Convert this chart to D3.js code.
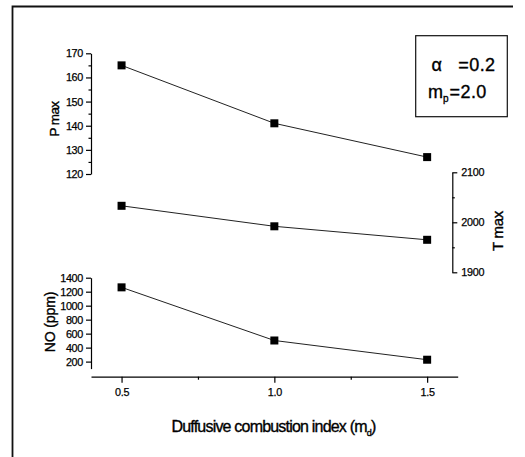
<html>
<head>
<script src="https://d3js.org/d3.v7.min.js"></script>
<style>
body { margin: 0; background: #fff; }
text { font-family: 'Liberation Sans', Arial, sans-serif; fill: #000; stroke: #000; stroke-width: 0.35px; }
.axis path, .axis line { stroke: #000; stroke-width: 1.2; }
.axis text { font-size: 10.8px; letter-spacing: -0.3px; stroke-width: 0.25px; }
.series { fill: none; stroke: #222; stroke-width: 1; }
</style>
</head>
<body>
<div id="plot"></div>
<script>
var width = 525;
var height = 457;

// values
var mdIndex = [0.5, 1.0, 1.5];
var pMax = [165, 141, 127];
var tMax = [2033, 1992, 1965];
var noPpm = [1262, 502, 227];

var xTicks = [0.5, 1.0, 1.5];
var pTicks = [120, 130, 140, 150, 160, 170];
var tTicks = [1900, 2000, 2100];
var noTicks = [200, 400, 600, 800, 1000, 1200, 1400];

var svg = d3.select("#plot").append("svg")
  .attr("width", width).attr("height", height);

// page frame (only top and left edge visible)
svg.append("path")
  .attr("d", "M12.5,460 V6.5 H513")
  .style("fill", "none").style("stroke", "#111").style("stroke-width", 1.8);

var xScale = d3.scaleLinear().domain([0.4, 1.6]).range([91, 457.7]);
var pScale = d3.scaleLinear().domain([120, 170]).range([174, 53.3]);
var tScale = d3.scaleLinear().domain([1900, 2100]).range([272.3, 172.3]);
var noScale = d3.scaleLinear().domain([100, 1400]).range([368.6, 277.7]);

var fmtInt = d3.format("d");

// x axis
svg.append("g").attr("class", "axis")
  .attr("transform", "translate(0,376.7)")
  .call(d3.axisBottom(xScale).tickValues(xTicks).tickFormat(d3.format(".1f"))
    .tickSize(6).tickPadding(6).tickSizeOuter(0));
svg.append("g").attr("class", "axis")
  .attr("transform", "translate(0,376.7)")
  .call(d3.axisBottom(xScale).tickValues([0.75, 1.25]).tickFormat("").tickSize(3).tickSizeOuter(0))
  .select("path.domain").remove();

// P max axis (left, top)
svg.append("g").attr("class", "axis")
  .attr("transform", "translate(91,0)")
  .call(d3.axisLeft(pScale).tickValues(pTicks).tickFormat(fmtInt).tickSize(5).tickPadding(3).tickSizeOuter(0));
svg.append("g").attr("class", "axis")
  .attr("transform", "translate(91,0)")
  .call(d3.axisLeft(pScale).tickValues([125, 135, 145, 155, 165]).tickFormat("").tickSize(2.5).tickSizeOuter(0))
  .select("path.domain").remove();

// T max axis (right, middle)
svg.append("g").attr("class", "axis")
  .attr("transform", "translate(452.3,0)")
  .call(d3.axisRight(tScale).tickValues(tTicks).tickFormat(fmtInt).tickSize(5).tickPadding(4).tickSizeOuter(0));
svg.append("g").attr("class", "axis")
  .attr("transform", "translate(452.3,0)")
  .call(d3.axisRight(tScale).tickValues([1950, 2050]).tickFormat("").tickSize(2.5).tickSizeOuter(0))
  .select("path.domain").remove();

// NO axis (left, bottom)
svg.append("g").attr("class", "axis")
  .attr("transform", "translate(91,0)")
  .call(d3.axisLeft(noScale).tickValues(noTicks).tickFormat(fmtInt).tickSize(5).tickPadding(3).tickSizeOuter(0));

// axis titles
svg.append("text")
  .attr("transform", "translate(58.5,119) rotate(-90)")
  .attr("text-anchor", "middle")
  .style("font-size", "13.5px").style("letter-spacing", "-0.6px")
  .text("P max");

svg.append("text")
  .attr("transform", "translate(503,231) rotate(-90)")
  .attr("text-anchor", "middle")
  .style("font-size", "15px").style("letter-spacing", "-0.3px")
  .text("T max");

svg.append("text")
  .attr("transform", "translate(54.5,322) rotate(-90)")
  .attr("text-anchor", "middle")
  .style("font-size", "14px").style("letter-spacing", "-0.1px")
  .text("NO (ppm)");

var xt = svg.append("text")
  .attr("x", 273.5).attr("y", 431.5)
  .attr("text-anchor", "middle")
  .style("font-size", "16px").style("letter-spacing", "-0.8px");
xt.append("tspan").text("Duffusive combustion index (m");
xt.append("tspan").attr("dy", 4).style("font-size", "9px").text("d");
xt.append("tspan").attr("dy", -4).text(")");

// series
var series = [pMax, tMax, noPpm];
var scales = [pScale, tScale, noScale];

series.forEach(function (vals, i) {
  var ys = scales[i];
  var line = d3.line()
    .x(function (d, j) { return xScale(mdIndex[j]); })
    .y(function (d) { return ys(d); });
  svg.append("path").datum(vals).attr("class", "series").attr("d", line);
  svg.selectAll(null).data(vals).enter().append("rect")
    .attr("x", function (d, j) { return xScale(mdIndex[j]) - 4; })
    .attr("y", function (d) { return ys(d) - 4; })
    .attr("width", 8).attr("height", 8)
    .style("fill", "#000");
});

// legend box
svg.append("rect")
  .attr("x", 415.7).attr("y", 35.7).attr("width", 91.6).attr("height", 81)
  .style("fill", "none").style("stroke", "#111").style("stroke-width", 1.2);

svg.append("text").attr("x", 431.5).attr("y", 71)
  .style("font-size", "18px").text("\u03b1");
svg.append("text").attr("x", 495.5).attr("y", 71).attr("text-anchor", "end")
  .style("font-size", "18px").style("letter-spacing", "0.4px").text("=0.2");
var mp = svg.append("text").attr("x", 428).attr("y", 97.7)
  .style("font-size", "18px");
mp.append("tspan").text("m");
mp.append("tspan").attr("dy", 4).style("font-size", "10px").text("p");
mp.append("tspan").attr("dy", -4).attr("dx", 1).style("letter-spacing", "0.4px").text("=2.0");
</script>
</body>
</html>
